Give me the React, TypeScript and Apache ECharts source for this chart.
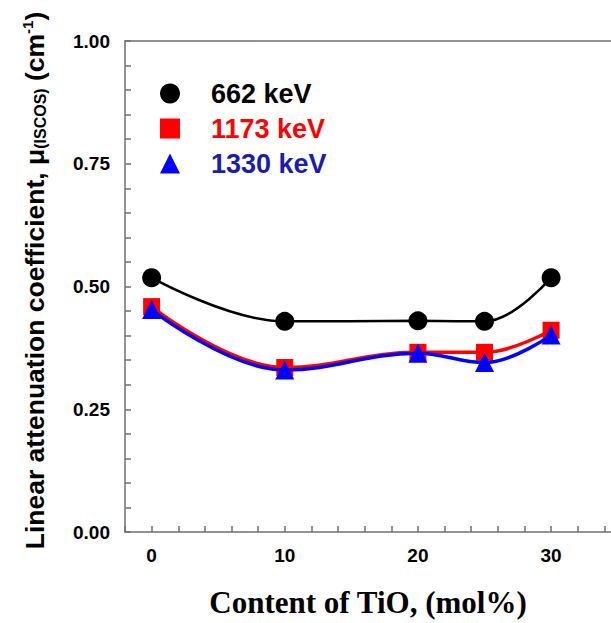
import React, { useEffect, useRef } from "react";
import * as echarts from "echarts";

const xContent = [0, 10, 20, 25, 30];
const mu662 = [0.518, 0.429, 0.43, 0.429, 0.518];
const mu1173 = [0.459, 0.335, 0.366, 0.366, 0.411];
const mu1330 = [0.453, 0.33, 0.364, 0.345, 0.401];
const seriesNames = ["662 keV", "1173 keV", "1330 keV"];
const xLabelValues = [0, 10, 20, 30];
const yLabelValues = [0, 0.25, 0.5, 0.75, 1.0];

const pairs = (xs: number[], ys: number[]) => xs.map((x, i) => [x, ys[i]]);

export default function App() {
  const ref = useRef<HTMLDivElement>(null);
  useEffect(() => {
    if (!ref.current) return;
    const chart = echarts.init(ref.current, null, { renderer: "svg" });
    const axisGray = "#6f6f6f";
    chart.setOption({
      animation: false,
      backgroundColor: "#ffffff",
      grid: { left: 125, right: 0, top: 41, bottom: 83 },
      legend: {
        orient: "vertical",
        left: 155,
        top: 75,
        itemWidth: 20,
        itemHeight: 20,
        itemGap: 8,
        selectedMode: false,
        textStyle: {
          fontFamily: "Liberation Sans, Arial",
          fontWeight: "bold",
          fontSize: 27,
          padding: [0, 0, 0, 26],
        },
        data: [
          { name: seriesNames[0], icon: "circle", textStyle: { color: "#000000" } },
          { name: seriesNames[1], icon: "rect", textStyle: { color: "#ff0000" } },
          { name: seriesNames[2], icon: "triangle", textStyle: { color: "#1c1ca8" } },
        ],
      },
      xAxis: [
        {
          type: "value",
          min: -2,
          max: 34.5,
          interval: 2,
          name: "Content of TiO, (mol%)",
          nameLocation: "middle",
          nameGap: 55,
          nameTextStyle: {
            fontFamily: "Liberation Serif, Times New Roman",
            fontWeight: "bold",
            fontSize: 31,
            color: "#000",
          },
          axisLine: { show: true, onZero: false, lineStyle: { color: axisGray, width: 1.5 } },
          axisTick: { show: true, inside: true, length: 6, lineStyle: { color: axisGray, width: 1.5 } },
          splitLine: { show: false },
          axisLabel: {
            margin: 14,
            fontFamily: "Liberation Sans, Arial",
            fontWeight: "bold",
            fontSize: 19,
            color: "#000",
            showMaxLabel: false,
            formatter: (v: number) => (xLabelValues.includes(Math.round(v * 1000) / 1000) ? String(v) : ""),
          },
        },
        {
          type: "value",
          position: "top",
          min: -2,
          max: 34.5,
          axisLine: { show: true, onZero: false, lineStyle: { color: axisGray, width: 1.5 } },
          axisTick: { show: false },
          axisLabel: { show: false },
          splitLine: { show: false },
        },
      ],
      yAxis: {
        type: "value",
        min: 0,
        max: 1,
        interval: 0.05,
        name: "{a|Linear attenuation coefficient, μ}{s|(ISCOS)}{a| (cm}{p|-1}{a|)}",
        nameLocation: "middle",
        nameGap: 76,
        nameRotate: 90,
        nameTextStyle: {
          color: "#000",
          padding: [0, 0, 0, 12],
          rich: {
            a: { fontFamily: "Liberation Sans, Arial", fontWeight: "bold", fontSize: 26.5, color: "#000" },
            s: { fontFamily: "Liberation Sans, Arial", fontWeight: "bold", fontSize: 16, color: "#000", padding: [12, 0, 0, 0] },
            p: { fontFamily: "Liberation Sans, Arial", fontWeight: "bold", fontSize: 15, color: "#000", padding: [0, 0, 14, 0] },
          },
        },
        axisLine: { show: true, onZero: false, lineStyle: { color: axisGray, width: 1.5 } },
        axisTick: { show: true, inside: true, length: 6, lineStyle: { color: axisGray, width: 1.5 } },
        splitLine: { show: false },
        axisLabel: {
          margin: 15,
          fontFamily: "Liberation Sans, Arial",
          fontWeight: "bold",
          fontSize: 19,
          color: "#000",
          formatter: (v: number) => {
            const r = Math.round(v * 1000) / 1000;
            return yLabelValues.some((y) => Math.abs(y - r) < 1e-6) ? r.toFixed(2) : "";
          },
        },
      },
      series: [
        {
          name: seriesNames[0],
          type: "line",
          data: pairs(xContent, mu662),
          smooth: 0.4,
          symbol: "circle",
          symbolSize: 19,
          itemStyle: { color: "#000000" },
          lineStyle: { color: "#000000", width: 2.5 },
          z: 4,
        },
        {
          name: seriesNames[1],
          type: "line",
          data: pairs(xContent, mu1173),
          smooth: 0.4,
          symbol: "rect",
          symbolSize: 17,
          itemStyle: { color: "#ff0000" },
          lineStyle: { color: "#ff0000", width: 3.5 },
          z: 2,
        },
        {
          name: seriesNames[2],
          type: "line",
          data: pairs(xContent, mu1330),
          smooth: 0.4,
          symbol: "triangle",
          symbolSize: 19,
          itemStyle: { color: "#0000ff" },
          lineStyle: { color: "#0000ff", width: 3.5 },
          z: 3,
        },
      ],
    });
    return () => chart.dispose();
  }, []);
  return (
    <div
      ref={ref}
      style={{ position: "absolute", left: 0, top: 0, width: 611, height: 623 }}
    />
  );
}
